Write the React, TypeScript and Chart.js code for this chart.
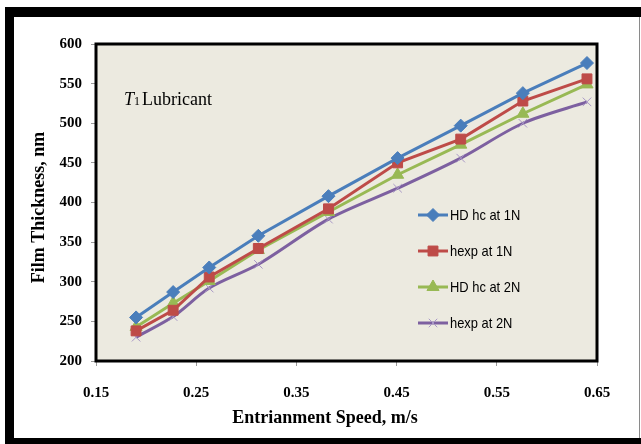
import React, { useEffect, useRef } from "react";
import { Chart, registerables } from "chart.js";
import { drawPoint } from "chart.js/helpers";

Chart.register(...registerables);

// Entrainment speed (m/s) at which film thickness was evaluated
const speeds = [0.19, 0.227, 0.263, 0.312, 0.382, 0.451, 0.514, 0.576, 0.64];

// Film thickness (nm) for each case
const hdHc1N = [255, 287, 318, 358, 408, 456, 497, 538, 576];
const hExp1N = [238, 264, 306, 342, 392, 450, 480, 528, 556];
const hdHc2N = [243, 273, 301, 340, 388, 435, 473, 512, 549];
const hExp2N = [230, 256, 292, 322, 379, 418, 456, 500, 527];

const seriesNames = ["HD hc at 1N", "hexp at 1N", "HD hc at 2N", "hexp at 2N"];

const xTicks = [0.15, 0.25, 0.35, 0.45, 0.55, 0.65];
const yTicks = [200, 250, 300, 350, 400, 450, 500, 550, 600];

const BLUE = "#4A7EBB";
const RED = "#BE4B48";
const GREEN = "#98B954";
const PURPLE = "#7D60A0";
const PURPLE_MARK = "#A897C6";
const PLOT_BG = "#ECEAE0";

const SERIF = "'Liberation Serif', 'Times New Roman', serif";
const SANS = "'Liberation Sans', Arial, sans-serif";

const pairs = (ys: number[]) => ys.map((y, i) => ({ x: speeds[i], y }));

const styles = [
  { color: BLUE, mark: BLUE, pointStyle: "rectRot", radius: 6.5, tension: 0 },
  { color: RED, mark: RED, pointStyle: "rect", radius: 7, tension: 0 },
  { color: GREEN, mark: GREEN, pointStyle: "triangle", radius: 7, tension: 0 },
  { color: PURPLE, mark: PURPLE_MARK, pointStyle: "crossRot", radius: 6, tension: 0.3 },
];

const decorations = {
  id: "decorations",
  beforeDraw(chart: any) {
    const { ctx, chartArea: a, width, height } = chart;
    ctx.save();
    ctx.fillStyle = "#ffffff";
    ctx.fillRect(0, 0, width, height);
    ctx.fillStyle = PLOT_BG;
    ctx.fillRect(a.left, a.top, a.right - a.left, a.bottom - a.top);
    ctx.restore();
  },
  afterDatasetsDraw(chart: any) {
    const { ctx, chartArea: a } = chart;
    ctx.save();
    ctx.strokeStyle = "#000000";
    ctx.lineWidth = 3;
    ctx.strokeRect(a.left, a.top, a.right - a.left, a.bottom - a.top);
    ctx.restore();
  },
  afterDraw(chart: any) {
    const { ctx, chartArea: a, width, height } = chart;
    ctx.save();

    // outer frame
    ctx.fillStyle = "#000000";
    ctx.fillRect(5, 7, width - 5, 10);
    ctx.fillRect(5, 7, 9, height - 7);
    ctx.fillRect(5, height - 6, width - 5, 6);
    ctx.fillStyle = "#8a8a8a";
    ctx.fillRect(width - 2, 17, 1, height - 23);

    // axis titles
    ctx.fillStyle = "#000000";
    ctx.font = `bold 18px ${SERIF}`;
    ctx.textAlign = "center";
    ctx.textBaseline = "middle";
    ctx.fillText("Entrianment Speed, m/s", 325, 418);
    ctx.save();
    ctx.translate(39, (a.top + a.bottom) / 2 + 5);
    ctx.rotate(-Math.PI / 2);
    ctx.fillText("Film Thickness, nm", 0, 0);
    ctx.restore();

    // annotation
    ctx.textAlign = "left";
    ctx.textBaseline = "alphabetic";
    ctx.font = `italic 18px ${SERIF}`;
    ctx.fillText("T", 124, 105);
    const tw = ctx.measureText("T").width;
    ctx.font = `12px ${SERIF}`;
    ctx.fillText("1", 124 + tw, 105);
    const ow = ctx.measureText("1").width;
    ctx.font = `18px ${SERIF}`;
    ctx.fillText("Lubricant", 124 + tw + ow + 2, 105);

    // legend
    const ly = [215, 251, 287, 323];
    chart.data.datasets.forEach((ds: any, i: number) => {
      const s = styles[i];
      const y = ly[i];
      ctx.strokeStyle = s.color;
      ctx.lineWidth = 3;
      ctx.beginPath();
      ctx.moveTo(418, y);
      ctx.lineTo(448, y);
      ctx.stroke();
      ctx.fillStyle = s.mark;
      ctx.strokeStyle = s.mark;
      ctx.lineWidth = 1;
      drawPoint(ctx, { pointStyle: s.pointStyle, radius: s.radius, rotation: 0, borderWidth: 1 }, 433, y);
      ctx.fillStyle = "#000000";
      ctx.font = `15px ${SANS}`;
      ctx.textBaseline = "middle";
      ctx.save();
      ctx.translate(450, y + 1);
      ctx.scale(0.86, 1);
      ctx.fillText(ds.label, 0, 0);
      ctx.restore();
    });

    ctx.restore();
  },
};

export default function App() {
  const canvasRef = useRef<HTMLCanvasElement | null>(null);

  useEffect(() => {
    const canvas = canvasRef.current;
    if (!canvas) return;
    const values = [hdHc1N, hExp1N, hdHc2N, hExp2N];
    const chart = new Chart(canvas, {
      type: "line",
      data: {
        datasets: values.map((v, i) => ({
          label: seriesNames[i],
          data: pairs(v),
          borderColor: styles[i].color,
          backgroundColor: styles[i].mark,
          pointBackgroundColor: styles[i].mark,
          pointBorderColor: styles[i].mark,
          pointBorderWidth: 1,
          pointStyle: styles[i].pointStyle as any,
          pointRadius: styles[i].radius,
          borderWidth: 3,
          tension: styles[i].tension,
          fill: false,
        })),
      },
      options: {
        animation: false,
        responsive: false,
        devicePixelRatio: 1,
        layout: { padding: { left: 0, top: 44, right: 44, bottom: 0 } },
        plugins: {
          legend: { display: false },
          tooltip: { enabled: false },
        },
        scales: {
          x: {
            type: "linear",
            min: 0.15,
            max: 0.65,
            afterBuildTicks: (scale: any) => {
              scale.ticks = xTicks.map((v) => ({ value: v }));
            },
            afterFit: (scale: any) => {
              scale.height = 83;
            },
            grid: { drawOnChartArea: false, drawTicks: true, tickLength: 5, color: "#9a9a9a" },
            border: { display: false },
            ticks: {
              color: "#000000",
              padding: 18,
              font: { family: SERIF, size: 15, weight: "bold" },
              callback: (v: any) => Number(v).toFixed(2),
            },
          },
          y: {
            type: "linear",
            min: 200,
            max: 600,
            afterBuildTicks: (scale: any) => {
              scale.ticks = yTicks.map((v) => ({ value: v }));
            },
            afterFit: (scale: any) => {
              scale.width = 96;
            },
            grid: { drawOnChartArea: false, drawTicks: true, tickLength: 5, color: "#9a9a9a" },
            border: { display: false },
            ticks: {
              color: "#000000",
              padding: 9,
              font: { family: SERIF, size: 15, weight: "bold" },
              callback: (v: any) => String(v),
            },
          },
        },
      },
      plugins: [decorations],
    });
    return () => chart.destroy();
  }, []);

  return (
    <div style={{ position: "fixed", left: 0, top: 0, width: 641, height: 444 }}>
      <canvas ref={canvasRef} width={641} height={444} style={{ width: 641, height: 444 }} />
    </div>
  );
}
